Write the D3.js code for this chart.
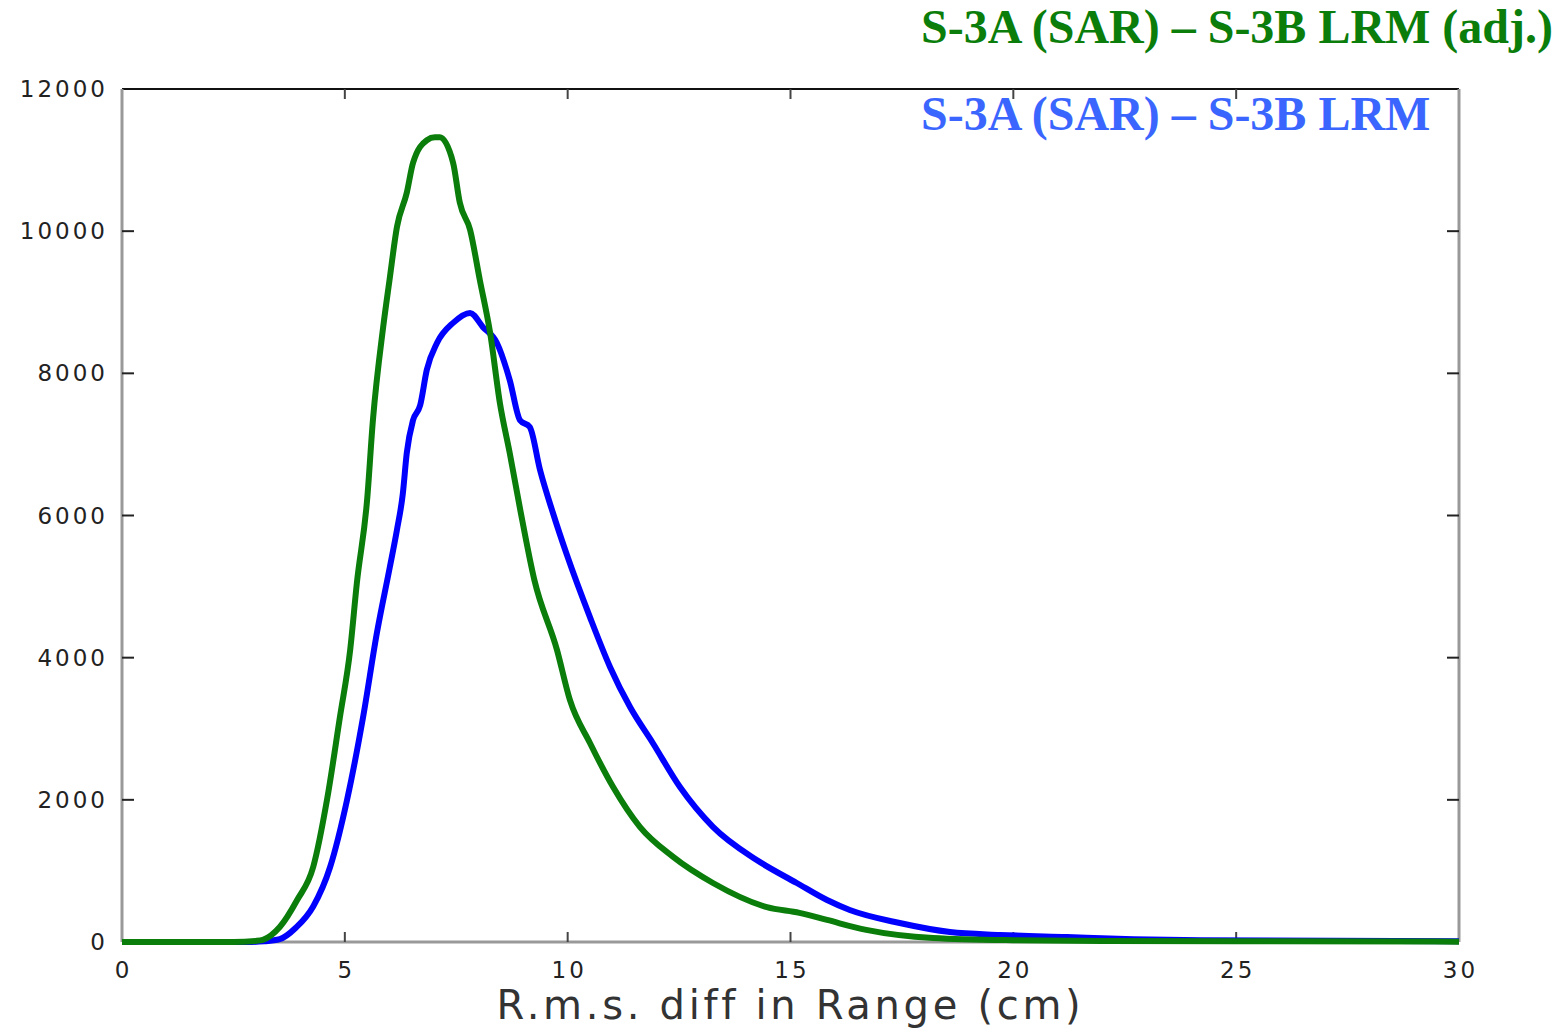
<!DOCTYPE html>
<html>
<head>
<meta charset="utf-8">
<script src="https://d3js.org/d3.v7.min.js"></script>
<style>
  body { margin: 0; background: #fff; }
  svg { display: block; background: #fff; }
  .tick-label { font-family: "DejaVu Sans", Verdana, sans-serif; font-size: 23px; fill: #222; letter-spacing: 3px; }
  .x-title { font-family: "DejaVu Sans", Verdana, sans-serif; font-size: 40px; fill: #333; letter-spacing: 3.7px; }
  .legend { font-family: "Liberation Serif", "Times New Roman", serif; font-weight: bold; font-size: 48px; }
</style>
</head>
<body>
<svg id="chart" width="1560" height="1029"></svg>
<script>
// histogram: x in cm, y in counts
var greenX = [0, 2.5, 3.0, 3.16, 3.54, 3.93, 4.29, 4.6, 4.89, 5.12, 5.27, 5.5, 5.63, 5.86, 6.0, 6.17, 6.39, 6.53, 6.84, 7.02, 7.13, 7.43, 7.58, 7.81, 8.03, 8.26, 8.48, 8.7, 8.93, 9.25, 9.76, 10.05, 10.5, 11.02, 11.62, 12.36, 13.26, 14.47, 15.2, 15.82, 16.7, 18.2, 20, 22, 25, 30];
var greenY = [0, 0, 15, 30, 210, 590, 1055, 2000, 3165, 4110, 5050, 6220, 7340, 8650, 9300, 10060, 10540, 10960, 11280, 11320, 11320, 10960, 10400, 10020, 9310, 8570, 7580, 6880, 6100, 5100, 4110, 3405, 2800, 2180, 1620, 1200, 830, 490, 410, 310, 170, 56, 25, 15, 10, 5];

var blueX = [0, 2.8, 3.2, 3.54, 3.9, 4.29, 4.67, 5.05, 5.41, 5.72, 6.01, 6.17, 6.3, 6.39, 6.53, 6.69, 6.84, 7.07, 7.43, 7.81, 8.1, 8.41, 8.7, 8.93, 9.15, 9.38, 9.67, 9.98, 10.5, 10.95, 11.4, 11.91, 12.52, 13.26, 14.25, 15.14, 15.82, 16.33, 17.45, 18.58, 19.7, 21.2, 22.7, 24.2, 30];
var blueY = [0, 0, 10, 40, 200, 500, 1055, 2000, 3165, 4350, 5275, 5800, 6300, 6880, 7340, 7550, 8050, 8430, 8710, 8850, 8650, 8430, 7905, 7340, 7245, 6640, 6035, 5450, 4570, 3870, 3305, 2800, 2180, 1620, 1150, 830, 590, 450, 267, 140, 100, 70, 40, 25, 10];

var xTicks = [0, 5, 10, 15, 20, 25, 30];
var yTicks = [0, 2000, 4000, 6000, 8000, 10000, 12000];
var legendLabels = ["S-3A (SAR) \u2013 S-3B LRM (adj.)", "S-3A (SAR) \u2013 S-3B LRM"];

var svg = d3.select("#chart");
var mLeft = 122, mRight = 1459, mTop = 89, mBottom = 942;

var x = d3.scaleLinear().domain([0, 30]).range([mLeft, mRight]);
var y = d3.scaleLinear().domain([0, 12000]).range([mBottom, mTop]);

// frame
svg.append("line").attr("x1", mLeft).attr("x2", mRight).attr("y1", mTop).attr("y2", mTop)
  .attr("stroke", "#111").attr("stroke-width", 2);
svg.append("line").attr("x1", mLeft).attr("x2", mLeft).attr("y1", mTop).attr("y2", mBottom)
  .attr("stroke", "#999").attr("stroke-width", 3);
svg.append("line").attr("x1", mRight).attr("x2", mRight).attr("y1", mTop).attr("y2", mBottom)
  .attr("stroke", "#999").attr("stroke-width", 3);
svg.append("line").attr("x1", mLeft).attr("x2", mRight).attr("y1", mBottom).attr("y2", mBottom)
  .attr("stroke", "#999").attr("stroke-width", 3);

// inward ticks on all sides
yTicks.slice(1, -1).forEach(function (t) {
  svg.append("line").attr("x1", mLeft).attr("x2", mLeft + 12).attr("y1", y(t)).attr("y2", y(t))
    .attr("stroke", "#222").attr("stroke-width", 2);
  svg.append("line").attr("x1", mRight).attr("x2", mRight - 12).attr("y1", y(t)).attr("y2", y(t))
    .attr("stroke", "#222").attr("stroke-width", 2);
});
xTicks.slice(1, -1).forEach(function (t) {
  svg.append("line").attr("x1", x(t)).attr("x2", x(t)).attr("y1", mBottom).attr("y2", mBottom - 10)
    .attr("stroke", "#444").attr("stroke-width", 2);
  svg.append("line").attr("x1", x(t)).attr("x2", x(t)).attr("y1", mTop).attr("y2", mTop + 10)
    .attr("stroke", "#444").attr("stroke-width", 2);
});

// tick labels
svg.selectAll(".ylab").data(yTicks).enter().append("text")
  .attr("class", "tick-label")
  .attr("x", 108).attr("y", function (d) { return y(d) + 8; })
  .attr("text-anchor", "end")
  .text(function (d) { return d; });

svg.selectAll(".xlab").data(xTicks).enter().append("text")
  .attr("class", "tick-label")
  .attr("x", function (d) { return x(d) + 1.5; }).attr("y", 978)
  .attr("text-anchor", "middle")
  .text(function (d) { return d; });

svg.append("text").attr("class", "x-title")
  .attr("x", (mLeft + mRight) / 2).attr("y", 1019)
  .attr("text-anchor", "middle")
  .text("R.m.s. diff in Range (cm)");

// curves
var line = d3.line()
  .curve(d3.curveMonotoneX)
  .x(function (d) { return x(d[0]); })
  .y(function (d) { return y(d[1]); });

svg.append("path")
  .datum(d3.zip(blueX, blueY))
  .attr("d", line)
  .attr("fill", "none").attr("stroke", "#0000ff").attr("stroke-width", 6)
  .attr("stroke-linejoin", "round");

svg.append("path")
  .datum(d3.zip(greenX, greenY))
  .attr("d", line)
  .attr("fill", "none").attr("stroke", "#0a7d0a").attr("stroke-width", 6)
  .attr("stroke-linejoin", "round");

// legend text
svg.append("text").attr("class", "legend")
  .attr("x", 921).attr("y", 43).attr("fill", "#0a7d0a")
  .text(legendLabels[0]);
svg.append("text").attr("class", "legend")
  .attr("x", 921).attr("y", 130).attr("fill", "#3a66ff")
  .text(legendLabels[1]);
</script>
</body>
</html>
